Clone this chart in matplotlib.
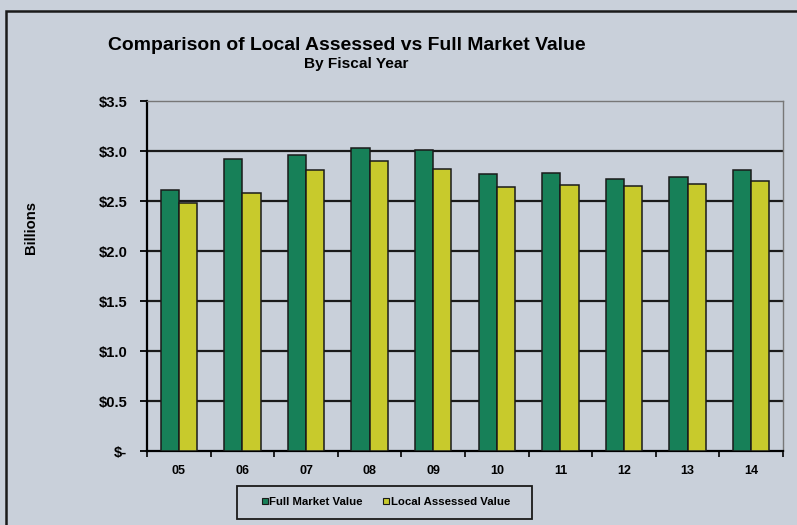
"""Comparison of Local Assessed vs Full Market Value, by fiscal year."""
import matplotlib.pyplot as plt
import numpy as np
from matplotlib import font_manager
from matplotlib.patches import Rectangle

years = ["05", "06", "07", "08", "09", "10", "11", "12", "13", "14"]
full_market = [2.61, 2.92, 2.96, 3.03, 3.01, 2.77, 2.78, 2.72, 2.74, 2.81]
local_assessed = [2.48, 2.58, 2.81, 2.90, 2.82, 2.64, 2.66, 2.65, 2.67, 2.70]
y_ticks = [0.0, 0.5, 1.0, 1.5, 2.0, 2.5, 3.0, 3.5]
y_tick_labels = ["$-", "$0.5", "$1.0", "$1.5", "$2.0", "$2.5", "$3.0", "$3.5"]

BG = "#c9d0da"
GREEN = "#178058"
YELLOW = "#c8ca2c"
INK = "#1a1a1a"

# the original uses a narrow bold face; fall back to a scaled-down regular one
installed = {f.name for f in font_manager.fontManager.ttflist}
if "Liberation Sans Narrow" in installed:
    plt.rcParams["font.family"] = ["Liberation Sans Narrow", "DejaVu Sans"]
    k = 1.0
else:
    plt.rcParams["font.family"] = ["Liberation Sans", "DejaVu Sans"]
    k = 0.82

W, H = 797, 525
fig = plt.figure(figsize=(W / 100, H / 100), dpi=100, facecolor=BG)
ax = fig.add_axes([147 / W, 1 - 451 / H, 636 / W, 350 / H], facecolor=BG)

# outer frame of the chart (right and bottom edges fall off the picture)
fig.add_artist(Rectangle((6 / W, -0.05), 1.0, 1.05 - 11 / H,
                         transform=fig.transFigure, fill=False,
                         edgecolor=INK, linewidth=1.8))

x = np.arange(len(years))
w = 0.285
ax.bar(x - w / 2, full_market, w, color=GREEN, edgecolor=INK,
       linewidth=1.1, label="Full Market Value", zorder=3)
ax.bar(x + w / 2, local_assessed, w, color=YELLOW, edgecolor=INK,
       linewidth=1.1, label="Local Assessed Value", zorder=3)

ax.set_xlim(-0.5, len(years) - 0.5)
ax.set_ylim(0, 3.5)
ax.set_yticks(y_ticks)
ax.set_yticklabels(y_tick_labels, fontsize=13 * k, fontweight="bold")
ax.set_xticks(x)
ax.set_xticklabels(years, fontsize=11 * k, fontweight="bold")
ax.tick_params(axis="x", length=0, pad=10)
ax.set_xticks(np.arange(-0.5, len(years)), minor=True)
ax.tick_params(axis="x", which="minor", length=4, width=1.2, direction="out")
ax.tick_params(axis="y", length=5, width=1.3, direction="out", pad=9)

for v in y_ticks[1:-1]:
    ax.axhline(v, color=INK, linewidth=1.6, zorder=1)

ax.spines["left"].set_linewidth(1.6)
ax.spines["bottom"].set_linewidth(1.6)
for side in ("top", "right"):
    ax.spines[side].set_color("#777777")
    ax.spines[side].set_linewidth(1.0)

fig.text(31 / W, 1 - 228 / H, "Billions", rotation=90, ha="center",
         va="center", fontsize=13 * k, fontweight="bold")

fig.text(347 / W, 1 - 45 / H, "Comparison of Local Assessed vs Full Market Value",
         ha="center", va="center", fontsize=17 * k, fontweight="bold")
fig.text(356 / W, 1 - 64 / H, "By Fiscal Year", ha="center", va="center",
         fontsize=13.5 * k, fontweight="bold")

leg = fig.legend(loc="center", bbox_to_anchor=(386 / W, 1 - 502 / H), ncol=2,
                 fontsize=10 * k, frameon=False,
                 handlelength=0.5, handleheight=0.5, handletextpad=0.15,
                 columnspacing=1.8)
for t in leg.get_texts():
    t.set_fontweight("bold")
for hnd in leg.legend_handles:
    hnd.set_linewidth(0.8)
fig.add_artist(Rectangle((237 / W, 1 - 519 / H), 295 / W, 33 / H,
                         transform=fig.transFigure, fill=False,
                         edgecolor=INK, linewidth=1.3))

fig.savefig("out.png", dpi=100, facecolor=BG)
